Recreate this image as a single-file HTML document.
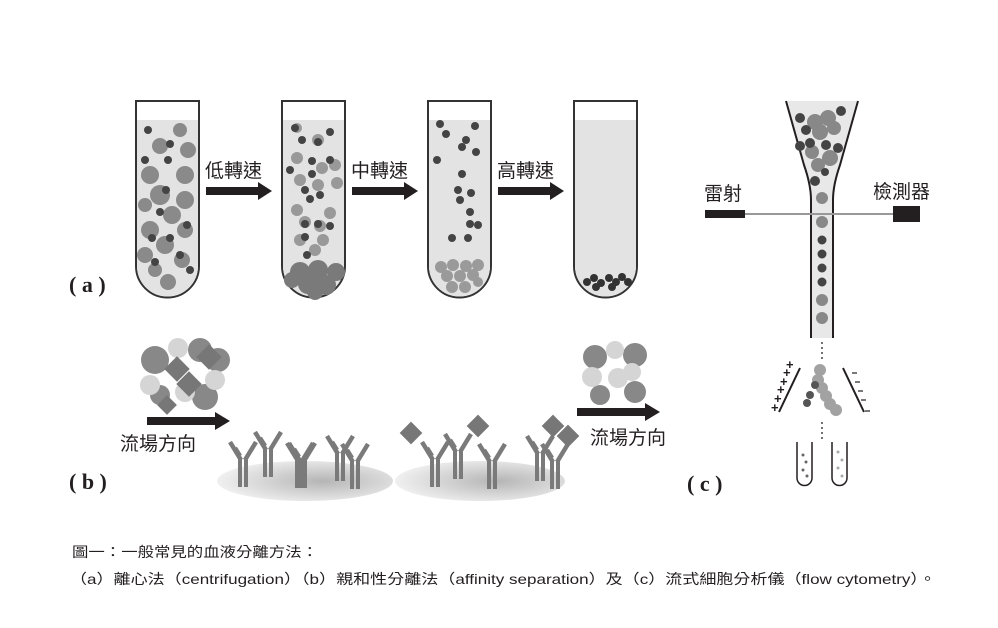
<!DOCTYPE html>
<html><head><meta charset="utf-8">
<style>html,body{margin:0;padding:0;background:#fff;}svg{display:block}
text{font-family:"Liberation Sans","Noto Sans CJK TC",sans-serif;}
text.lab{font-family:"Liberation Serif",serif;font-weight:bold;}</style></head>
<body>
<svg width="998" height="628" viewBox="0 0 998 628" xmlns="http://www.w3.org/2000/svg">
<defs>
<radialGradient id="disk" cx="0.6" cy="0.5" r="0.6"><stop offset="0" stop-color="#b5b5b5"/><stop offset="1" stop-color="#f0f0f0"/></radialGradient>
<g id="ab"><path d="M-13,-40 L-2,-22 M13,-40 L2,-22 M-8,-34 L-3,-26" stroke="#7a7a7a" stroke-width="4.5" fill="none"/><path d="M-3,-24 V5 M3,-24 V5" stroke="#7a7a7a" stroke-width="4" fill="none"/></g>
</defs>
<!-- tubes -->
<g stroke="#333" stroke-width="2">
<path d="M136,101 V266 A31.5,31.5 0 0 0 199,266 V101Z" fill="#fff"/>
<path d="M282,101 V266 A31.5,31.5 0 0 0 345,266 V101Z" fill="#fff"/>
<path d="M428,101 V266 A31.5,31.5 0 0 0 491,266 V101Z" fill="#fff"/>
<path d="M574,101 V266 A31.5,31.5 0 0 0 637,266 V101Z" fill="#fff"/>
</g>
<g fill="#e3e3e3">
<path d="M137,120 V266 A30.5,30.5 0 0 0 198,266 V120Z"/>
<path d="M283,120 V266 A30.5,30.5 0 0 0 344,266 V120Z"/>
<path d="M429,120 V266 A30.5,30.5 0 0 0 490,266 V120Z"/>
<path d="M575,120 V266 A30.5,30.5 0 0 0 636,266 V120Z"/>
</g>
<!-- tube1 particles -->
<g fill="#8a8a8a">
<circle cx="180" cy="130" r="7"/><circle cx="188" cy="150" r="8"/><circle cx="160" cy="146" r="8"/><circle cx="150" cy="175" r="9"/><circle cx="185" cy="175" r="9"/><circle cx="160" cy="195" r="10"/><circle cx="185" cy="200" r="9"/><circle cx="145" cy="205" r="7"/><circle cx="172" cy="215" r="9"/><circle cx="150" cy="230" r="9"/><circle cx="185" cy="230" r="8"/><circle cx="165" cy="245" r="9"/><circle cx="145" cy="255" r="8"/><circle cx="182" cy="260" r="8"/><circle cx="168" cy="282" r="8"/><circle cx="155" cy="270" r="7"/>
</g>
<g fill="#444"><circle cx="148" cy="130" r="4"/><circle cx="170" cy="144" r="4"/><circle cx="145" cy="160" r="4"/><circle cx="168" cy="160" r="4"/><circle cx="166" cy="190" r="4"/><circle cx="160" cy="212" r="4"/><circle cx="187" cy="225" r="4"/><circle cx="152" cy="238" r="4"/><circle cx="170" cy="238" r="4"/><circle cx="155" cy="262" r="4"/><circle cx="190" cy="270" r="4"/><circle cx="180" cy="255" r="4"/></g>
<!-- tube2 -->
<g fill="#999"><circle cx="297" cy="128" r="5"/><circle cx="318" cy="140" r="6"/><circle cx="297" cy="158" r="6"/><circle cx="322" cy="168" r="6"/><circle cx="335" cy="165" r="6"/><circle cx="300" cy="180" r="6"/><circle cx="318" cy="185" r="6"/><circle cx="337" cy="183" r="6"/><circle cx="297" cy="210" r="6"/><circle cx="330" cy="213" r="6"/><circle cx="305" cy="222" r="6"/><circle cx="320" cy="226" r="6"/><circle cx="300" cy="240" r="6"/><circle cx="323" cy="240" r="6"/><circle cx="315" cy="250" r="6"/></g>
<g fill="#7a7a7a"><circle cx="300" cy="272" r="10"/><circle cx="318" cy="270" r="10"/><circle cx="336" cy="272" r="9"/><circle cx="292" cy="280" r="8"/><circle cx="308" cy="284" r="10"/><circle cx="326" cy="285" r="10"/><circle cx="315" cy="292" r="8"/></g>
<g fill="#444"><circle cx="295" cy="128" r="4"/><circle cx="330" cy="132" r="4"/><circle cx="302" cy="140" r="4"/><circle cx="318" cy="142" r="4"/><circle cx="312" cy="161" r="4"/><circle cx="330" cy="160" r="4"/><circle cx="290" cy="170" r="4"/><circle cx="312" cy="174" r="4"/><circle cx="305" cy="190" r="4"/><circle cx="310" cy="199" r="4"/><circle cx="320" cy="195" r="4"/><circle cx="305" cy="224" r="4"/><circle cx="318" cy="224" r="4"/><circle cx="330" cy="226" r="4"/><circle cx="305" cy="237" r="4"/><circle cx="307" cy="255" r="4"/></g>
<!-- tube3 -->
<g fill="#444"><circle cx="440" cy="124" r="4"/><circle cx="446" cy="134" r="4"/><circle cx="475" cy="126" r="4"/><circle cx="466" cy="140" r="4"/><circle cx="462" cy="147" r="4"/><circle cx="476" cy="152" r="4"/><circle cx="437" cy="160" r="4"/><circle cx="462" cy="174" r="4"/><circle cx="458" cy="190" r="4"/><circle cx="471" cy="193" r="4"/><circle cx="460" cy="200" r="4"/><circle cx="470" cy="212" r="4"/><circle cx="470" cy="224" r="4"/><circle cx="478" cy="225" r="4"/><circle cx="452" cy="238" r="4"/><circle cx="468" cy="238" r="4"/></g>
<g fill="#9a9a9a"><circle cx="441" cy="267" r="6"/><circle cx="453" cy="265" r="6"/><circle cx="466" cy="266" r="6"/><circle cx="478" cy="265" r="6"/><circle cx="447" cy="276" r="6"/><circle cx="460" cy="276" r="6"/><circle cx="473" cy="275" r="6"/><circle cx="452" cy="287" r="6"/><circle cx="465" cy="287" r="6"/><circle cx="478" cy="282" r="5"/></g>
<!-- tube4 -->
<g fill="#333"><circle cx="587" cy="282" r="4"/><circle cx="594" cy="278" r="4"/><circle cx="601" cy="283" r="4"/><circle cx="609" cy="278" r="4"/><circle cx="616" cy="282" r="4"/><circle cx="622" cy="277" r="4"/><circle cx="596" cy="287" r="4"/><circle cx="612" cy="287" r="4"/><circle cx="628" cy="282" r="4"/></g>
<!-- arrows a -->
<g fill="#231f20">
<path d="M206,187 H258 V182 L272,191 L258,200 V195 H206Z"/>
<path d="M352,187 H404 V182 L418,191 L404,200 V195 H352Z"/>
<path d="M498,187 H550 V182 L564,191 L550,200 V195 H498Z"/>
</g>
<g font-size="19" fill="#231f20"><text x="205" y="177">低轉速</text><text x="351" y="177">中轉速</text><text x="497" y="177">高轉速</text></g>
<g font-size="22" fill="#231f20"><text class="lab" x="69" y="292">( a )</text><text class="lab" x="69" y="489">( b )</text><text class="lab" x="687" y="491">( c )</text></g>
<!-- flow cytometry -->
<path d="M786,101 L804,165 Q811,185 811,200 V338 H833 V200 Q833,185 840,165 L858,101Z" fill="#e8e8e8"/>
<path d="M786,101 L804,165 Q811,185 811,200 V338 M858,101 L840,165 Q833,185 833,200 V338" stroke="#231f20" stroke-width="2" fill="none"/>
<g fill="#888"><circle cx="815" cy="122" r="8"/><circle cx="828" cy="118" r="8"/><circle cx="820" cy="132" r="8"/><circle cx="834" cy="128" r="7"/><circle cx="812" cy="152" r="7"/><circle cx="830" cy="158" r="8"/><circle cx="818" cy="165" r="7"/><circle cx="822" cy="198" r="6"/><circle cx="822" cy="222" r="6"/><circle cx="822" cy="300" r="6"/><circle cx="822" cy="318" r="6"/></g>
<g fill="#444"><circle cx="800" cy="118" r="5"/><circle cx="841" cy="111" r="5"/><circle cx="806" cy="130" r="5"/><circle cx="826" cy="145" r="5"/><circle cx="810" cy="143" r="5"/><circle cx="838" cy="148" r="5"/><circle cx="800" cy="146" r="5"/><circle cx="825" cy="172" r="4"/><circle cx="815" cy="181" r="5"/><circle cx="822" cy="240" r="4.5"/><circle cx="822" cy="254" r="4.5"/><circle cx="822" cy="268" r="4.5"/><circle cx="822" cy="282" r="4.5"/></g>
<line x1="745" y1="214" x2="895" y2="214" stroke="#999" stroke-width="2"/>
<rect x="705" y="210" width="40" height="8" fill="#231f20"/>
<rect x="893" y="206" width="27" height="16" fill="#231f20"/>
<g font-size="19" fill="#231f20"><text x="704" y="200">雷射</text><text x="873" y="198">檢測器</text></g>
<g stroke="#444" stroke-width="1.5" stroke-dasharray="2,3"><line x1="822" y1="342" x2="822" y2="362"/><line x1="822" y1="422" x2="822" y2="440"/></g>
<g stroke="#231f20" stroke-width="2"><line x1="800" y1="368" x2="779" y2="412"/><line x1="843" y1="368" x2="864" y2="412"/></g>
<g font-size="13" font-weight="bold" fill="#231f20"><text x="786" y="369">+</text><text x="783" y="377">+</text><text x="780" y="386">+</text><text x="777" y="394">+</text><text x="774" y="403">+</text><text x="771" y="412">+</text></g>
<g stroke="#231f20" stroke-width="1.2"><line x1="852" y1="373" x2="857" y2="373"/><line x1="855" y1="382" x2="860" y2="382"/><line x1="858" y1="391" x2="863" y2="391"/><line x1="861" y1="400" x2="866" y2="400"/><line x1="865" y1="411" x2="870" y2="411"/></g>
<g fill="#999" opacity="0.9"><circle cx="820" cy="370" r="6"/><circle cx="818" cy="380" r="6"/><circle cx="822" cy="388" r="6"/><circle cx="826" cy="396" r="6"/><circle cx="830" cy="404" r="6"/><circle cx="836" cy="410" r="6"/></g>
<g fill="#555"><circle cx="815" cy="385" r="4"/><circle cx="810" cy="395" r="4"/><circle cx="807" cy="403" r="4"/></g>
<g stroke="#231f20" stroke-width="1.5" fill="#fff"><path d="M797,442 V478 A7.5,7.5 0 0 0 812,478 V442"/><path d="M832,442 V478 A7.5,7.5 0 0 0 847,478 V442"/></g>
<g fill="#666"><circle cx="803" cy="455" r="1.5"/><circle cx="806" cy="462" r="1.5"/><circle cx="803" cy="470" r="1.5"/><circle cx="807" cy="476" r="1.5"/></g>
<g fill="#aaa"><circle cx="838" cy="452" r="1.5"/><circle cx="842" cy="460" r="1.5"/><circle cx="838" cy="468" r="1.5"/><circle cx="842" cy="476" r="1.5"/></g>
<!-- (b) -->
<ellipse cx="305" cy="481" rx="88" ry="20" fill="url(#disk)"/>
<ellipse cx="480" cy="481" rx="85" ry="20" fill="url(#disk)"/>
<g fill="#888"><circle cx="155" cy="360" r="14"/><circle cx="200" cy="350" r="12"/><circle cx="218" cy="360" r="12"/><circle cx="205" cy="397" r="13"/><circle cx="160" cy="395" r="10"/></g>
<g fill="#d5d5d5"><circle cx="178" cy="348" r="10"/><circle cx="150" cy="385" r="10"/><circle cx="185" cy="392" r="10"/><circle cx="215" cy="380" r="10"/></g>
<g fill="#777"><rect x="168" y="360" width="18" height="18" transform="rotate(45 177 369)"/><rect x="180" y="375" width="18" height="18" transform="rotate(45 189 384)"/><rect x="200" y="348" width="18" height="18" transform="rotate(45 209 357)"/><rect x="160" y="398" width="14" height="14" transform="rotate(45 167 405)"/></g>
<path d="M147,417 H215 V412 L230,421 L215,430 V425 H147Z" fill="#231f20"/>
<text x="120" y="450" font-size="19" fill="#231f20">流場方向</text>
<g fill="#888"><circle cx="595" cy="357" r="12"/><circle cx="635" cy="355" r="12"/><circle cx="600" cy="395" r="10"/><circle cx="635" cy="392" r="11"/></g>
<g fill="#d5d5d5"><circle cx="592" cy="377" r="10"/><circle cx="615" cy="350" r="9"/><circle cx="618" cy="378" r="10"/><circle cx="632" cy="372" r="9"/></g>
<path d="M577,408 H645 V403 L660,412 L645,421 V416 H577Z" fill="#231f20"/>
<text x="590" y="444" font-size="19" fill="#231f20">流場方向</text>
<g><use href="#ab" x="243" y="482"/><use href="#ab" x="268" y="472"/><use href="#ab" x="300" y="483"/><use href="#ab" x="302" y="483"/><use href="#ab" x="340" y="476"/><use href="#ab" x="355" y="484"/>
<use href="#ab" x="435" y="482"/><use href="#ab" x="458" y="474"/><use href="#ab" x="492" y="484"/><use href="#ab" x="540" y="476"/><use href="#ab" x="555" y="484"/></g>
<g fill="#777"><rect x="403" y="425" width="16" height="16" transform="rotate(45 411 433)"/><rect x="470" y="418" width="16" height="16" transform="rotate(45 478 426)"/><rect x="545" y="418" width="16" height="16" transform="rotate(45 553 426)"/><rect x="560" y="428" width="16" height="16" transform="rotate(45 568 436)"/></g>
<!-- caption -->
<text x="72" y="557" font-size="14" fill="#231f20" textLength="246" lengthAdjust="spacingAndGlyphs">圖一：一般常見的血液分離方法：</text>
<text x="70" y="584" font-size="14" fill="#231f20" textLength="866" lengthAdjust="spacingAndGlyphs">（a）離心法（centrifugation）（b）親和性分離法（affinity separation）及（c）流式細胞分析儀（flow cytometry）。</text>
</svg>
</body></html>
